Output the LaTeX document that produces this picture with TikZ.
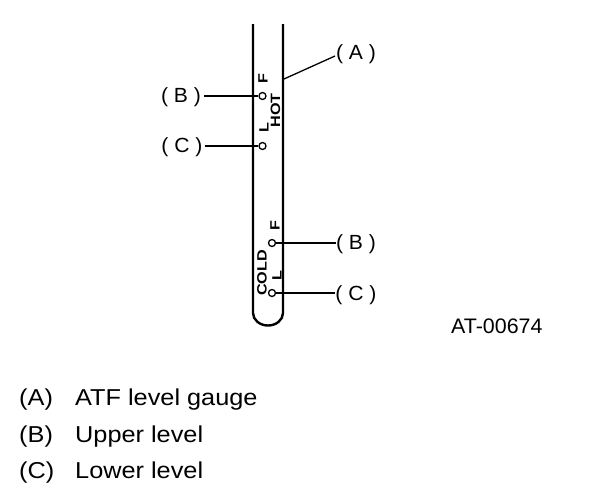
\documentclass[tikz,border=0pt]{standalone}
\usepackage{fontspec}
\setmainfont{Liberation Sans}
\newfontfamily\legendfont[FakeStretch=1.1]{Liberation Sans}
\newfontfamily\tagfont[FakeStretch=1.03]{Liberation Sans}
\newfontfamily\codefont[FakeStretch=1.02]{Liberation Sans}
\newfontfamily\markfont[FakeStretch=1.2]{Liberation Sans}
\begin{document}
\begin{tikzpicture}[x=1pt,y=-1pt,
  gauge/.style={draw=black,line width=2.4pt},
  leader/.style={draw=black,line width=1.3pt},
  dot/.style={circle,draw=black,fill=white,line width=1.3pt,minimum size=7pt,inner sep=0pt},
  tag/.style={inner sep=0pt,font=\tagfont\fontsize{20.5}{20.5}\selectfont},
  scalemark/.style={inner sep=0pt,rotate=90,font=\markfont\fontsize{13.5}{13.5}\selectfont\bfseries},
  legend/.style={inner sep=0pt,anchor=base west,font=\legendfont\fontsize{23}{23}\selectfont}]
\useasboundingbox (0,0) rectangle (608,496);
\fill[white] (0,0) rectangle (608,496);
\draw[gauge] (253,24) -- (253,313) arc[start angle=180,end angle=360,x radius=15,y radius=-12.5] -- (283,24);
\node[dot] (b1) at (262.5,96) {};
\node[dot] (c1) at (262.5,146) {};
\node[dot] (b2) at (272,243) {};
\node[dot] (c2) at (272,293) {};
\node[tag] (A) at (356,54) {( A )};
\node[tag] (Bt) at (181,97) {( B )};
\node[tag] (Ct) at (182,147) {( C )};
\node[tag] (Bb) at (356,244) {( B )};
\node[tag] (Cb) at (356,295) {( C )};
\coordinate (gaugeedge) at (284,79);
\draw[leader] (gaugeedge) -- (335,56);
\draw[leader] (Bt.east |- b1) ++(3,0) -- (b1.west);
\draw[leader] (Ct.east |- c1) ++(2,0) -- (c1.west);
\draw[leader] (b2.east) -- (b2 -| Bb.west);
\draw[leader] (c2.east) -- (c2 -| Cb.west);
\node[scalemark] (f1) at (263,78.5) {F};
\node[scalemark] (hot) at (275.5,110.5) {HOT};
\node[scalemark] (l1) at (264,128) {L};
\node[scalemark] (f2) at (275,226) {F};
\node[scalemark] (cold) at (262,273) {COLD};
\node[scalemark] (l2) at (277,275.5) {L};
\node[inner sep=0pt,anchor=base west,font=\codefont\fontsize{21}{21}\selectfont] (code) at (451,333) {AT-00674};
\node[legend] (la) at (19,405) {(A)};
\node[legend] (lb) at (19,442) {(B)};
\node[legend] (lc) at (19,478) {(C)};
\node[legend] (ta) at (75,405) {ATF level gauge};
\node[legend] (tb) at (75,442) {Upper level};
\node[legend] (tc) at (75,478) {Lower level};
\end{tikzpicture}
\end{document}
